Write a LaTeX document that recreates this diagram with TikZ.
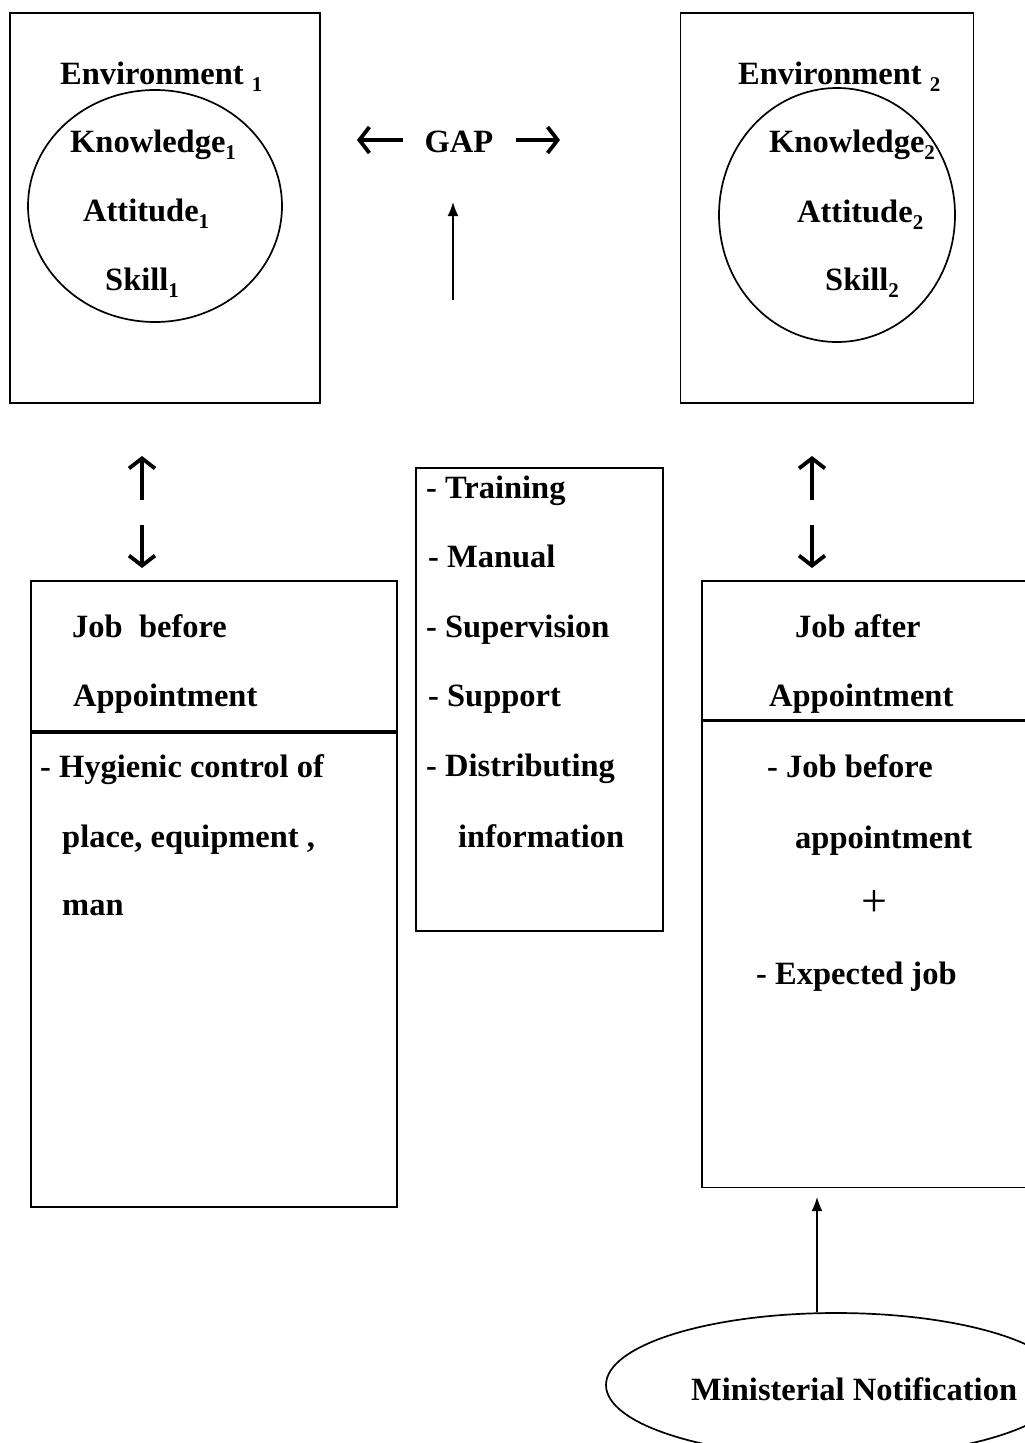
\documentclass[tikz,border=0pt]{standalone}
\usepackage{fontspec}
\setmainfont{Liberation Serif}
\usetikzlibrary{arrows.meta,shapes.geometric}

\newcommand{\lowsub}[1]{\raisebox{-7pt}{\fontsize{21}{21}\selectfont #1}}

\tikzset{
  box/.style={draw, line width=1.8pt, inner sep=0pt},
  thinbox/.style={draw, line width=1.1pt, inner sep=0pt},
  ring/.style={draw, ellipse, line width=1.7pt, inner sep=0pt},
  txt/.style={anchor=base west, inner sep=0pt, font=\bfseries\fontsize{32.5}{38}\selectfont},
  stub/.style={line width=3.8pt, -{Straight Barb[length=10pt,width=26pt,line width=3.8pt]}},
  lead/.style={line width=1.6pt, -{Latex[length=14pt,width=11pt]}}
}

\begin{document}
\begin{tikzpicture}[x=1pt, y=-1pt]
  \useasboundingbox (0,0) rectangle (1025,1443);
  \clip (0,0) rectangle (1025,1443);

  % state before
  \node[box, minimum width=310pt, minimum height=390pt] (state1) at (165,208) {};
  \node[ring, minimum width=254pt, minimum height=232pt] (ring1) at (155,206) {};
  \node[txt] (env1)  at (60,84)   {Environment \lowsub{1}};
  \node[txt] (know1) at (70,152)  {Knowledge\lowsub{1}};
  \node[txt] (att1)  at (83,221)  {Attitude\lowsub{1}};
  \node[txt] (skill1) at (105,290) {Skill\lowsub{1}};

  % state after
  \node[box, minimum width=293pt, minimum height=390pt] (state2) at (827,208) {};
  \node[ring, minimum width=236pt, minimum height=254pt] (ring2) at (837,215) {};
  \node[txt] (env2)  at (738,84)   {Environment \lowsub{2}};
  \node[txt] (know2) at (769,152)  {Knowledge\lowsub{2}};
  \node[txt] (att2)  at (797,222)  {Attitude\lowsub{2}};
  \node[txt] (skill2) at (825,290) {Skill\lowsub{2}};

  % gap
  \node[txt, anchor=base] (gap) at (459,152) {GAP};
  \coordinate (gapL) at (357,140);
  \coordinate (gapR) at (560,140);
  \coordinate (rise) at (453,300);
  \coordinate (riseTop) at (453,202);
  \draw[stub] ([xshift=-22pt]gap.west |- gapL) -- (gapL);
  \draw[stub] ([xshift=22pt]gap.east |- gapR) -- (gapR);
  \draw[lead] (rise) -- (riseTop);

  % two-way arrows
  \foreach \name/\x in {left/142, right/812}{
    \coordinate (\name-up0) at (\x,500);
    \coordinate (\name-up1) at (\x,456);
    \coordinate (\name-dn0) at (\x,525);
    \coordinate (\name-dn1) at (\x,568);
    \draw[stub] (\name-up0) -- (\name-up1);
    \draw[stub] (\name-dn0) -- (\name-dn1);
  }

  % job before
  \node[box, minimum width=366pt, minimum height=150pt] (jobB) at (214,656) {};
  \node[box, minimum width=366pt, minimum height=474pt, anchor=north] (jobBbody) at (jobB.south) {};
  \node[txt] at (72,637) {Job\ \ before};
  \node[txt] at (73,706) {Appointment};
  \node[txt] at (40,777) {- Hygienic control of};
  \node[txt] at (62,847) {place, equipment ,};
  \node[txt] at (62,915) {man};

  % means
  \node[thinbox, minimum width=247pt, minimum height=463pt] (means) at (539.5,699.5) {};
  \node[txt] at (426,498) {- Training};
  \node[txt] at (428,567) {- Manual};
  \node[txt] at (426,637) {- Supervision};
  \node[txt] at (428,706) {- Support};
  \node[txt] at (426,776) {- Distributing};
  \node[txt] at (458,847) {information};

  % job after
  \node[thinbox, minimum width=366pt, minimum height=139pt] (jobA) at (885,650.5) {};
  \node[thinbox, minimum width=366pt, minimum height=466pt, anchor=north] (jobAbody) at (jobA.south) {};
  \node[txt] at (795,637) {Job after};
  \node[txt] at (769,706) {Appointment};
  \node[txt] at (767,777) {- Job before};
  \node[txt] at (795,848) {appointment};
  \node[anchor=center, inner sep=0pt, font=\fontsize{46}{46}\selectfont] (plus) at (874,903) {+};
  \node[txt] at (756,984) {- Expected job};

  % ministerial notification
  \node[ring, minimum width=460pt, minimum height=144pt] (notif) at (836,1385) {};
  \node[txt] at (691,1400) {Ministerial Notification};
  \draw[lead] (notif.north -| 817,0) -- (817,1197);
\end{tikzpicture}
\end{document}
